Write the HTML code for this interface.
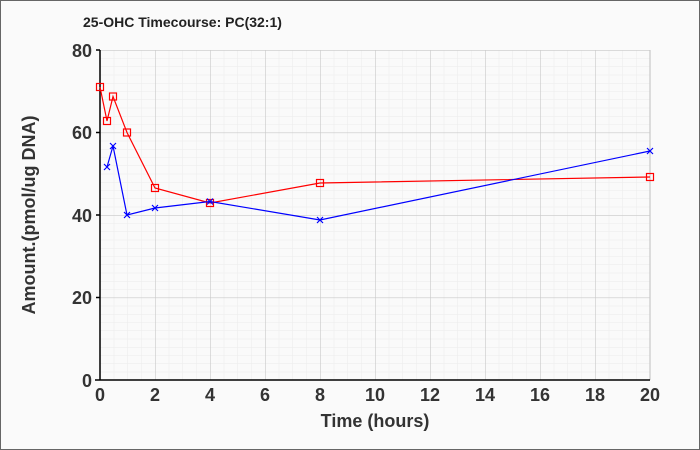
<!DOCTYPE html>
<html><head><meta charset="utf-8"><style>
html,body{margin:0;padding:0;background:#fafafa;}
svg{display:block;font-family:"Liberation Sans",Arial,sans-serif;}
</style></head><body>
<svg width="700" height="450" viewBox="0 0 700 450" xmlns="http://www.w3.org/2000/svg">
<defs>
<pattern id="mn" x="100" y="50" width="13.75" height="8.25" patternUnits="userSpaceOnUse">
<path d="M0 0V8.25M0 0H13.75" stroke="#ebebeb" stroke-width="1" fill="none"/>
</pattern>
<pattern id="mj" x="100" y="50" width="55" height="82.5" patternUnits="userSpaceOnUse">
<path d="M0 0V82.5M0 0H55" stroke="#c8c8c8" stroke-width="1.2" fill="none"/>
</pattern>
</defs>
<rect x="0.5" y="0.5" width="699" height="449" fill="#fafafa" stroke="#666" stroke-width="1"/>
<text x="83" y="27" font-size="14" font-weight="bold" fill="#222">25-OHC Timecourse: PC(32:1)</text>
<rect x="100" y="50" width="550" height="330" fill="url(#mn)"/>
<rect x="100" y="50" width="550" height="330" fill="url(#mj)"/>
<line x1="650" y1="50" x2="650" y2="380" stroke="#c8c8c8" stroke-width="1.2"/>
<g stroke="#000" stroke-width="1.5">
<line x1="100" y1="50" x2="100" y2="380"/>
<line x1="95" y1="380" x2="650" y2="380"/>
<line x1="96" y1="50" x2="100" y2="50"/><line x1="96" y1="132.5" x2="100" y2="132.5"/><line x1="96" y1="215" x2="100" y2="215"/><line x1="96" y1="297.5" x2="100" y2="297.5"/>
</g>
<g font-size="18" font-weight="bold" fill="#333" text-anchor="end">
<text x="92" y="57">80</text><text x="92" y="139">60</text><text x="92" y="222">40</text><text x="92" y="304">20</text><text x="92" y="387">0</text>
</g>
<g font-size="18" font-weight="bold" fill="#333" text-anchor="middle">
<text x="100" y="401">0</text><text x="155" y="401">2</text><text x="210" y="401">4</text><text x="265" y="401">6</text><text x="320" y="401">8</text><text x="375" y="401">10</text><text x="430" y="401">12</text><text x="485" y="401">14</text><text x="540" y="401">16</text><text x="595" y="401">18</text><text x="650" y="401">20</text>
</g>
<text x="375" y="427" font-size="18" font-weight="bold" fill="#333" text-anchor="middle">Time (hours)</text>
<text transform="translate(35,215) rotate(-90)" font-size="18" font-weight="bold" fill="#333" text-anchor="middle">Amount.(pmol/ug DNA)</text>
<polyline fill="none" stroke="#f00" stroke-width="1.2" points="100,87 107,121 113,96.5 127,132.5 155,188 210,203 320,183 650,177"/>
<g fill="none" stroke="#f00" stroke-width="1.2">
<rect x="96.5" y="83.5" width="7" height="7"/><rect x="103.5" y="117.5" width="7" height="7"/><rect x="109.5" y="93" width="7" height="7"/><rect x="123.5" y="129" width="7" height="7"/><rect x="151.5" y="184.5" width="7" height="7"/><rect x="206.5" y="199.5" width="7" height="7"/><rect x="316.5" y="179.5" width="7" height="7"/><rect x="646.5" y="173.5" width="7" height="7"/>
</g>
<polyline fill="none" stroke="#00f" stroke-width="1.2" points="107,167 113,146 127,215 155,208 210,201.5 320,220 650,151"/>
<g stroke="#00f" stroke-width="1.2">
<path d="M104 164l6 6M110 164l-6 6M110 143l6 6M116 143l-6 6M124 212l6 6M130 212l-6 6M152 205l6 6M158 205l-6 6M207 198.5l6 6M213 198.5l-6 6M317 217l6 6M323 217l-6 6M647 148l6 6M653 148l-6 6"/>
</g>
</svg>
</body></html>
